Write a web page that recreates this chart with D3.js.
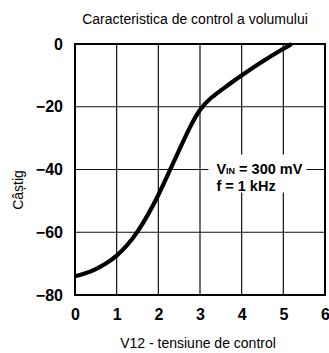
<!DOCTYPE html>
<html>
<head>
<meta charset="utf-8">
<script src="https://cdn.jsdelivr.net/npm/d3@7"></script>
<style>
  body { margin: 0; background: #fff; }
  svg { display: block; }
  .ann { font-family: 'Liberation Sans', Arial, sans-serif; font-weight: bold; font-size: 14.5px; }
  .tick text { font-family: 'Liberation Sans', Arial, sans-serif; font-weight: bold; font-size: 16px; }
  .lbl { font-family: 'Liberation Sans', Arial, sans-serif; font-size: 14px; }
</style>
</head>
<body>
<div id="chart"></div>
<script>
// values
var volts = [0, 0.25, 0.5, 0.75, 1, 1.25, 1.5, 1.75, 2, 2.25, 2.5, 2.75, 3, 3.25, 3.5, 3.75, 4, 4.5, 5, 5.2];
var gain  = [-74, -73.2, -71.8, -70, -67.6, -64.3, -60, -54.5, -48.3, -41, -33.8, -26.6, -20.6, -17.2, -14.8, -12.3, -10, -5.5, -1.5, 0];
var xTicks = [0, 1, 2, 3, 4, 5, 6];
var yTicks = [0, -20, -40, -60, -80];

var W = 329, H = 353;
var margin = {top: 44, right: 4, bottom: 58, left: 75};
var width = W - margin.left - margin.right,
    height = H - margin.top - margin.bottom;

var x = d3.scaleLinear().domain([0, 6]).range([0, width]);
var y = d3.scaleLinear().domain([-80, 0]).range([height, 0]);

var svg = d3.select("#chart").append("svg").attr("width", W).attr("height", H);
var g = svg.append("g").attr("transform", "translate(" + margin.left + "," + margin.top + ")");

// grid
g.selectAll(".vgrid").data(xTicks.slice(1, -1)).enter().append("line")
  .attr("x1", function (d) { return x(d); }).attr("x2", function (d) { return x(d); })
  .attr("y1", 0).attr("y2", height)
  .attr("stroke", "#111").attr("stroke-width", 1.2);
g.selectAll(".hgrid").data(yTicks.slice(1, -1)).enter().append("line")
  .attr("x1", 0).attr("x2", width)
  .attr("y1", function (d) { return y(d); }).attr("y2", function (d) { return y(d); })
  .attr("stroke", "#111").attr("stroke-width", 1.2);

// frame
g.append("rect").attr("x", 0).attr("y", 0).attr("width", width).attr("height", height)
  .attr("fill", "none").attr("stroke", "#000").attr("stroke-width", 2);

// curve
var line = d3.line().x(function (d, i) { return x(volts[i]); }).y(function (d) { return y(d); })
  .curve(d3.curveBasis);
g.append("path").datum(gain).attr("d", line)
  .attr("fill", "none").attr("stroke", "#000").attr("stroke-width", 4.2);

// annotation box
var ax = x(3.25), ay = y(-40);
g.append("rect").attr("x", ax - 2).attr("y", ay - 15).attr("width", 98).attr("height", 38).attr("fill", "#fff");
var ann = g.append("text").attr("class", "ann").attr("x", ax + 6).attr("y", ay + 4);
ann.append("tspan").text("V");
ann.append("tspan").text("IN").style("font-size", "9px");
ann.append("tspan").text(" = 300 mV");
g.append("text").attr("class", "ann").attr("x", ax + 6).attr("y", ay + 21).text("f = 1 kHz");

// axes (labels only)
var xAxis = g.append("g").attr("transform", "translate(0," + height + ")")
  .call(d3.axisBottom(x).tickValues(xTicks).tickSize(0).tickPadding(14).tickFormat(d3.format("d")));
var yAxis = g.append("g")
  .call(d3.axisLeft(y).tickValues(yTicks).tickSize(0).tickPadding(12)
    .tickFormat(function (d) { return d < 0 ? "\u2212" + Math.abs(d) : d; }));
[xAxis, yAxis].forEach(function (a) {
  a.select(".domain").remove();
  a.attr("font-family", null).attr("font-size", null);
  a.selectAll("text").attr("fill", "#000");
});

// titles
svg.append("text").attr("class", "lbl").attr("x", 195).attr("y", 24).attr("text-anchor", "middle")
  .text("Caracteristica de control a volumului");
svg.append("text").attr("class", "lbl").attr("x", 198).attr("y", 348).attr("text-anchor", "middle")
  .text("V12 - tensiune de control");
svg.append("text").attr("class", "lbl")
  .attr("transform", "translate(23," + 190 + ") rotate(-90)")
  .attr("text-anchor", "middle")
  .text("Câștig");
</script>
</body>
</html>
